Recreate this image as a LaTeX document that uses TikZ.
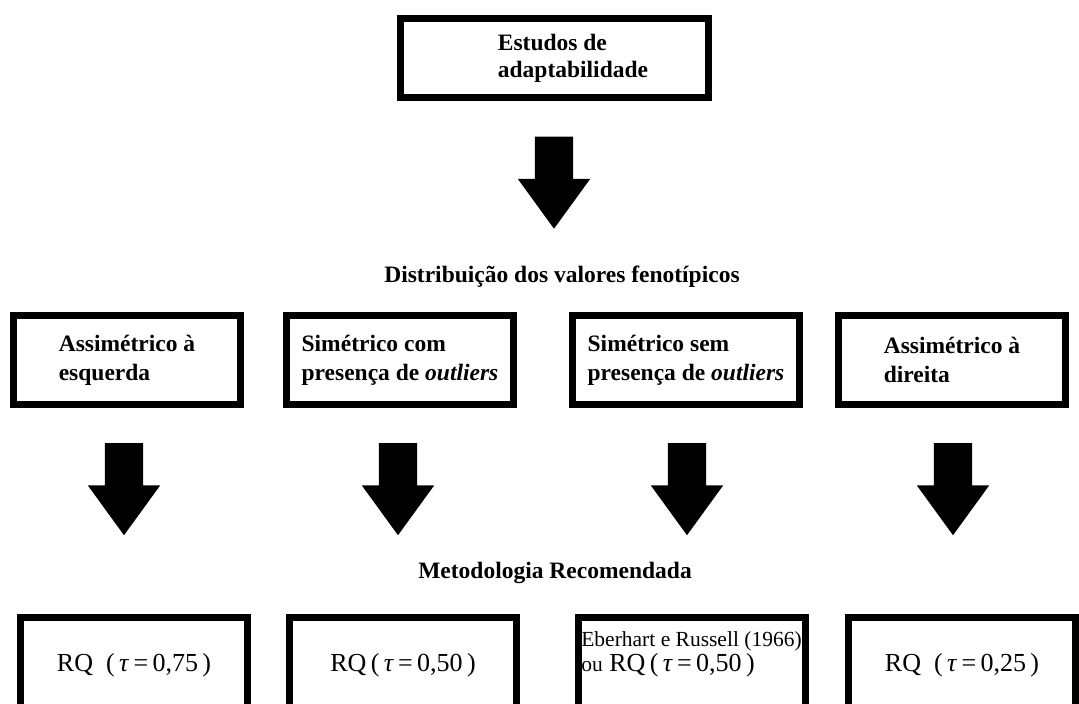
\documentclass[tikz,border=0pt]{standalone}
\usepackage{fontspec}
\setmainfont{Liberation Serif}
\usetikzlibrary{shapes.arrows}

\begin{document}
\begin{tikzpicture}
        [x=1pt, y=-1pt,
        box/.style={draw, line width=7pt, minimum width=227pt, minimum height=89pt, inner sep=0pt, align=left, font=\fontsize{23.5}{29}\selectfont\bfseries},
        result/.style={draw, line width=7pt, minimum width=227pt, minimum height=95pt, inner sep=0pt, font=\fontsize{26}{25}\selectfont},
        seta/.style={single arrow, fill=black, rotate=-90, minimum height=92pt, minimum width=0pt, inner xsep=0pt, inner ysep=19pt, single arrow head extend=17pt, single arrow tip angle=72},
        title/.style={anchor=base, inner sep=0pt, font=\fontsize{23.5}{28}\selectfont\bfseries}]

        \useasboundingbox (0, 0) rectangle (1079, 704);
        \clip (0, 0) rectangle (1079, 704);

        \node[box, minimum width=308pt, minimum height=79pt, font=\fontsize{23.5}{27}\selectfont\bfseries] (estudos) at (554.5, 58) {\hspace*{37pt}Estudos de\\\hspace*{37pt}adaptabilidade};
        \node[seta] (seta0) at (554, 169.5) {};

        \node[title] (distrib) at (562, 282) {Distribuição dos valores fenotípicos};

        % distribution boxes
        \node[box] (assesq) at (127, 360) {Assimétrico à\\esquerda};
        \node[box] (simcom) at (400, 360) {Simétrico com\\presença de \textit{outliers}};
        \node[box] (simsem) at (686, 360) {Simétrico sem\\presença de \textit{outliers}};
        \node[box] (assdir) at (952, 360) {Assimétrico à\\direita};

        % arrows
        \node[seta] (seta1) at (124, 476) {};
        \node[seta] (seta2) at (398, 476) {};
        \node[seta] (seta3) at (687, 476) {};
        \node[seta] (seta4) at (953, 476) {};

        \node[title] (metod) at (555, 578) {Metodologia Recomendada};

        % recommended method boxes
        \node[result] (rq75) at (134, 665) {RQ\enspace(\,\textit{τ}\,=\,0,75\,)};
        \node[result] (rq50) at (403, 665) {RQ\,(\,\textit{τ}\,=\,0,50\,)};
        \node[result, align=left, text depth=26pt] (eberhart) at (691.5, 665) {{\fontsize{21.5}{24}\selectfont Eberhart e Russell (1966)}\\{\fontsize{21.5}{24}\selectfont ou} RQ\,(\,\textit{τ}\,=\,0,50\,)};
        \node[result] (rq25) at (962, 665) {RQ\enspace(\,\textit{τ}\,=\,0,25\,)};

    \end{tikzpicture}
\end{document}
